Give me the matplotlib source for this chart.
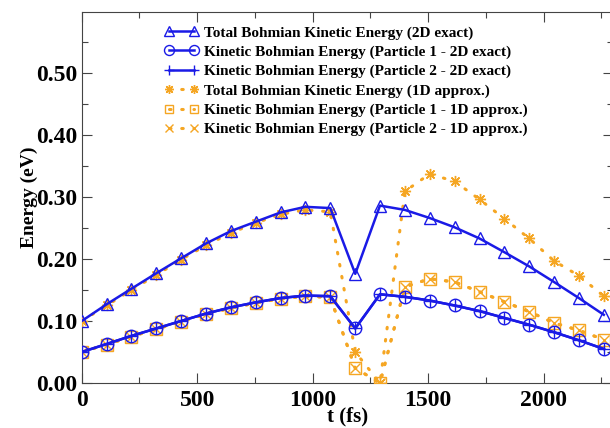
import matplotlib
matplotlib.use("Agg")
import matplotlib.pyplot as plt
from matplotlib.ticker import MultipleLocator, FormatStrFormatter

plt.rcParams['font.family'] = ['Liberation Serif', 'DejaVu Serif']
plt.rcParams['font.weight'] = 'bold'

# time grid (fs)
t = [0, 108, 215, 323, 430, 538, 646, 753, 861, 968, 1076,
     1184, 1291, 1399, 1506, 1614, 1722, 1829, 1937, 2044, 2152, 2260]

# 2D exact
tot_2d = [0.100, 0.127, 0.152, 0.177, 0.201, 0.225, 0.245, 0.260, 0.275, 0.284, 0.282,
          0.176, 0.286, 0.279, 0.266, 0.251, 0.233, 0.211, 0.188, 0.163, 0.137, 0.110]
p1_2d = [0.050, 0.063, 0.076, 0.088, 0.100, 0.112, 0.122, 0.130, 0.137, 0.141, 0.140,
         0.088, 0.143, 0.139, 0.133, 0.125, 0.116, 0.105, 0.094, 0.082, 0.069, 0.055]
p2_2d = [0.050, 0.063, 0.076, 0.088, 0.100, 0.112, 0.122, 0.130, 0.137, 0.141, 0.140,
         0.088, 0.143, 0.139, 0.133, 0.125, 0.116, 0.105, 0.094, 0.082, 0.069, 0.055]

# 1D approx
tot_1d = [0.100, 0.125, 0.150, 0.174, 0.199, 0.222, 0.242, 0.258, 0.272, 0.279, 0.276,
          0.050, 0.000, 0.309, 0.337, 0.325, 0.296, 0.265, 0.233, 0.197, 0.173, 0.140]
p1_1d = [0.050, 0.062, 0.075, 0.087, 0.099, 0.111, 0.121, 0.129, 0.136, 0.140, 0.138,
         0.024, 0.000, 0.155, 0.168, 0.163, 0.147, 0.131, 0.115, 0.097, 0.085, 0.070]
p2_1d = [0.050, 0.062, 0.075, 0.087, 0.099, 0.111, 0.121, 0.129, 0.136, 0.140, 0.138,
         0.024, 0.000, 0.155, 0.168, 0.163, 0.147, 0.131, 0.115, 0.097, 0.085, 0.070]

labels = ["Total Bohmian Kinetic Energy (2D exact)",
          "Kinetic Bohmian Energy (Particle 1 - 2D exact)",
          "Kinetic Bohmian Energy (Particle 2 - 2D exact)",
          "Total Bohmian Kinetic Energy (1D approx.)",
          "Kinetic Bohmian Energy (Particle 1 - 1D approx.)",
          "Kinetic Bohmian Energy (Particle 2 - 1D approx.)"]

blue = '#1a1ae6'
orange = '#f5a623'
dots = (0, (0.5, 3.5))

fig = plt.figure(figsize=(6.1, 4.28), dpi=100)
ax = fig.add_axes([0.134, 0.105, 1.005 - 0.134, 0.972 - 0.105])

ax.plot(t, tot_2d, color=blue, lw=1.8, marker='^', ms=9, mfc='none', mew=1.0,
        label=labels[0], zorder=4)
ax.plot(t, p1_2d, color=blue, lw=1.8, marker='o', ms=9, mfc='none', mew=1.0,
        label=labels[1], zorder=4)
ax.plot(t, p2_2d, color=blue, lw=1.8, marker='+', ms=9, mew=1.0,
        label=labels[2], zorder=4)
ax.plot(t, tot_1d, color=orange, lw=2.2, ls=dots, dash_capstyle='round',
        marker=(8, 2, 0), ms=8, mew=1.0, label=labels[3], zorder=3)
ax.plot(t, p1_1d, color=orange, lw=2.2, ls=dots, dash_capstyle='round',
        marker='s', ms=8, mfc='none', mew=1.0, label=labels[4], zorder=3)
ax.plot(t, p2_1d, color=orange, lw=2.2, ls=dots, dash_capstyle='round',
        marker='x', ms=7, mew=1.0, label=labels[5], zorder=3)

ax.set_xlim(0, 2300)
ax.set_ylim(0, 0.598)
ax.set_yticks([0.0, 0.1, 0.2, 0.3, 0.4, 0.5])
ax.xaxis.set_major_locator(MultipleLocator(500))
ax.xaxis.set_minor_locator(MultipleLocator(250))
ax.yaxis.set_minor_locator(MultipleLocator(0.05))
ax.yaxis.set_major_formatter(FormatStrFormatter('%.2f'))
ax.tick_params(which='both', direction='in', top=True, right=True,
               labelsize=17, width=0.8, color='#444444')
ax.tick_params(which='major', length=7)
ax.tick_params(which='minor', length=4)
ax.tick_params(axis='x', pad=5)
ax.tick_params(axis='y', pad=3)
for s in ax.spines.values():
    s.set_color('#444444')

ax.set_xlabel("t (fs)", fontsize=15, fontweight='bold', labelpad=-3)
ax.set_ylabel("Energy (eV)", fontsize=14, fontweight='bold', labelpad=-1)

ax.legend(loc='upper left', bbox_to_anchor=(0.13, 1.0), frameon=False,
          numpoints=2, handlelength=2.2, handletextpad=0.4, labelspacing=0.36,
          prop={'size': 11, 'weight': 'bold'}, markerscale=0.8)

fig.savefig("out.png", dpi=100)
